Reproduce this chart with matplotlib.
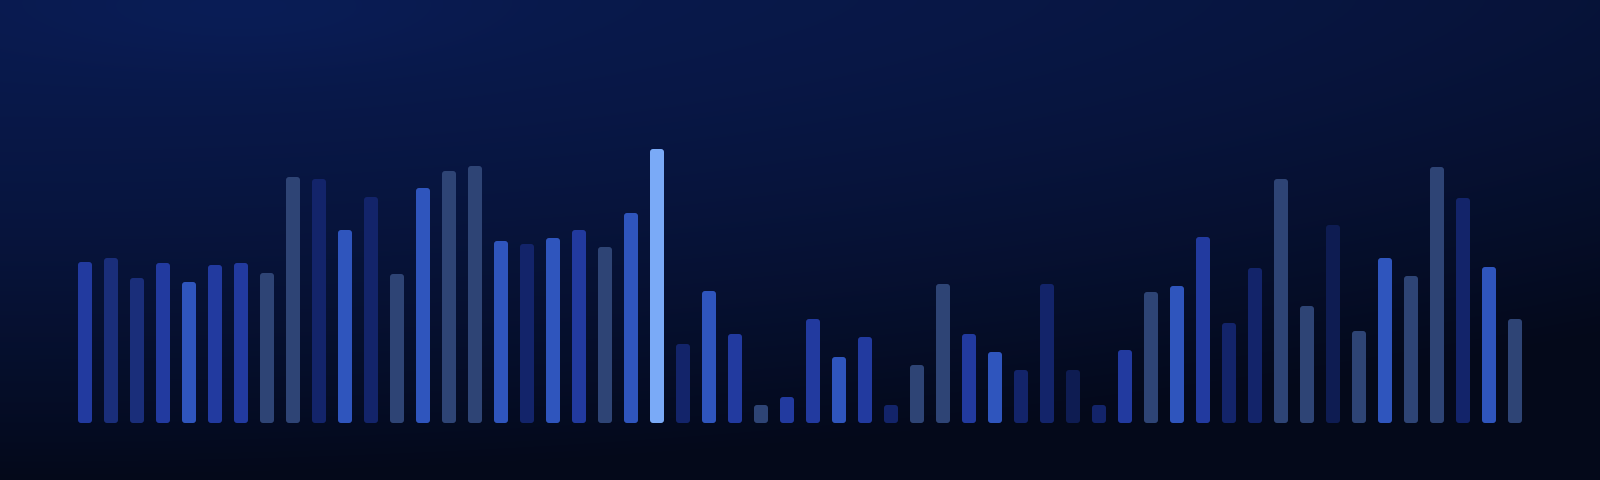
import numpy as np
import matplotlib
matplotlib.use('Agg')
import matplotlib.pyplot as plt
from matplotlib.patches import FancyBboxPatch

# bar heights (px above the baseline)
values = [161, 165, 145, 160, 141, 158, 160, 150, 246, 244, 193, 226, 149, 235,
          252, 257, 182, 179, 185, 193, 176, 210, 274, 79, 132, 89, 18, 26,
          104, 66, 86, 18, 58, 139, 89, 71, 53, 139, 53, 18, 73, 131, 137, 186,
          100, 155, 244, 117, 198, 92, 165, 147, 256, 225, 156, 104]

# colour group for each bar
kinds = ['m', 'd', 'd', 'm', 'b', 'm', 'm', 's', 's', 'n', 'b', 'n', 's', 'b',
         's', 's', 'b', 'n', 'b', 'm', 's', 'b', 'l', 'n', 'b', 'm', 's', 'm',
         'm', 'b', 'm', 'n', 's', 's', 'm', 'b', 'n', 'n', 'v', 'n', 'm', 's',
         'b', 'm', 'n', 'n', 's', 's', 'v', 's', 'b', 's', 's', 'n', 'b', 's']

palette = {
    'm': '#223a9f',   # medium blue
    'b': '#2f55bd',   # bright blue
    's': '#2e4475',   # slate
    'n': '#13246a',   # navy
    'd': '#1a2e7a',   # dotted dim
    'v': '#0e1c52',   # very dark
    'l': '#7aaaf7',   # highlight
}

W, H = 1600, 480
x0, step = 85, 26      # first bar centre and spacing in px
base = 57              # baseline, px from bottom
bar_w = 14 / step

fig = plt.figure(figsize=(16, 4.8), dpi=100)
ax = fig.add_axes([0, 0, 1, 1])
xlim = (-x0 / step, (W - x0) / step)
ylim = (-base, H - base)

# background gradient
yy, xx = np.mgrid[0:H, 0:W]
t = (yy / H) ** 1.5 + 0.41 * (xx / W) ** 2
t = np.clip(t, 0, 1)
c0 = np.array([9, 26, 78]) / 255
c1 = np.array([4, 9, 26]) / 255
bg = c0[None, None, :] * (1 - t[..., None]) + c1[None, None, :] * t[..., None]
glow = np.exp(-(((xx - 250) / 220) ** 2 + ((yy - 10) / 60) ** 2))
bg = bg + glow[..., None] * np.array([1, 3, 8]) / 255
bg = np.clip(bg, 0, 1)
ax.imshow(bg, extent=(xlim[0], xlim[1], ylim[0], ylim[1]), aspect='auto',
          origin='upper', zorder=0, interpolation='bilinear')

idx = np.arange(len(values))
bars = ax.bar(idx, values, width=bar_w, color=[palette[k] for k in kinds])
for b in bars:
    b.set_visible(False)
    p = FancyBboxPatch((b.get_x(), b.get_y()), b.get_width(), b.get_height(),
                       boxstyle='round,pad=0,rounding_size=%f' % (3 / step),
                       mutation_aspect=step, facecolor=b.get_facecolor(),
                       edgecolor='none', zorder=2)
    ax.add_patch(p)

ax.set_xlim(*xlim)
ax.set_ylim(*ylim)
ax.axis('off')
fig.savefig('out.png', dpi=100)
